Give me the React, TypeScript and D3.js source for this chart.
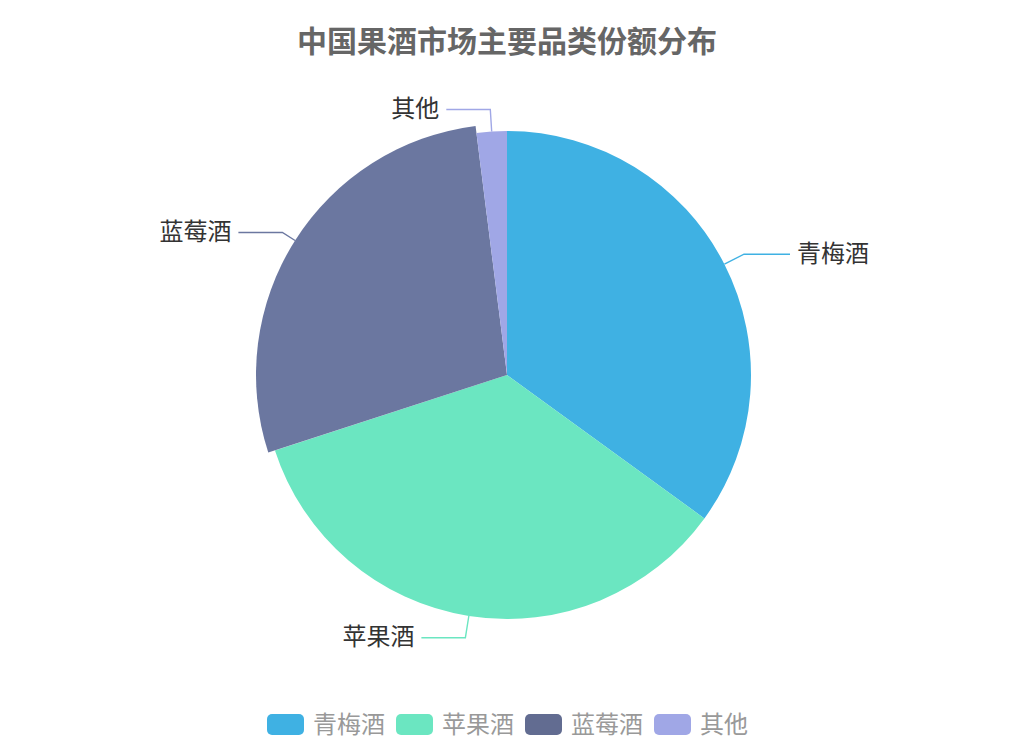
import React from "react";
import * as d3 from "d3";

const categories = ["青梅酒", "苹果酒", "蓝莓酒", "其他"];
const shares = [35, 35, 28, 2];
const colors = ["#3fb1e3", "#6be6c1", "#626c91", "#a0a7e6"];
const title = "中国果酒市场主要品类份额分布";

const W = 1014;
const H = 750;
const cx = 507;
const cy = 375;
const radius = 244;
const highlighted = 2; // blueberry slice is drawn enlarged
const font = "'Noto Sans CJK SC', 'Noto Sans', sans-serif";

const App: React.FC = () => {
  const data = categories.map((c, i) => ({ label: c, value: shares[i], i }));
  const pie = d3
    .pie<{ label: string; value: number; i: number }>()
    .sort(null)
    .value((d) => d.value);
  const arcs = pie(data);

  const arcFor = (i: number) =>
    d3
      .arc<d3.PieArcDatum<any>>()
      .innerRadius(0)
      .outerRadius(i === highlighted ? radius + 7 : radius);

  const sliceFill = (i: number) => (i === highlighted ? "#6b77a0" : colors[i]);

  const legendX = [267, 396, 525, 654];

  return (
    <svg
      width={W}
      height={H}
      style={{ position: "absolute", left: 0, top: 0, display: "block" }}
      fontFamily={font}
    >
      <rect width={W} height={H} fill="#fff" />
      <text
        x={cx}
        y={39}
        textAnchor="middle"
        dominantBaseline="central"
        fontSize={30}
        fontWeight="bold"
        fill="#666"
      >
        {title}
      </text>

      <g transform={`translate(${cx},${cy})`}>
        {arcs.map((a) => (
          <path key={a.data.label} d={arcFor(a.index)(a) as string} fill={sliceFill(a.index)} />
        ))}
        {arcs.map((a) => {
          const mid = (a.startAngle + a.endAngle) / 2;
          const r0 = a.index === highlighted ? radius + 7 : radius;
          const r1 = radius + 22;
          const p0 = [r0 * Math.sin(mid), -r0 * Math.cos(mid)];
          const p1 = [r1 * Math.sin(mid), -r1 * Math.cos(mid)];
          const right = Math.sin(mid) > 0;
          const p2 = [p1[0] + (right ? 46 : -44), p1[1]];
          const tx = p2[0] + (right ? 7 : -7);
          return (
            <g key={"l" + a.data.label}>
              <polyline
                points={[p0, p1, p2].map((p) => p.join(",")).join(" ")}
                fill="none"
                stroke={sliceFill(a.index)}
                strokeWidth={1.4}
              />
              <text
                x={tx}
                y={p2[1] - 3}
                textAnchor={right ? "start" : "end"}
                dominantBaseline="central"
                fontSize={24}
                fill="#333"
              >
                {a.data.label}
              </text>
            </g>
          );
        })}
      </g>

      <g>
        {categories.map((c, i) => (
          <g key={"lg" + c} transform={`translate(${legendX[i]},714)`}>
            <rect width={37} height={21} rx={5} fill={colors[i]} />
            <text x={46} y={8} dominantBaseline="central" fontSize={24} fill="#999">
              {c}
            </text>
          </g>
        ))}
      </g>
    </svg>
  );
};

export default App;
